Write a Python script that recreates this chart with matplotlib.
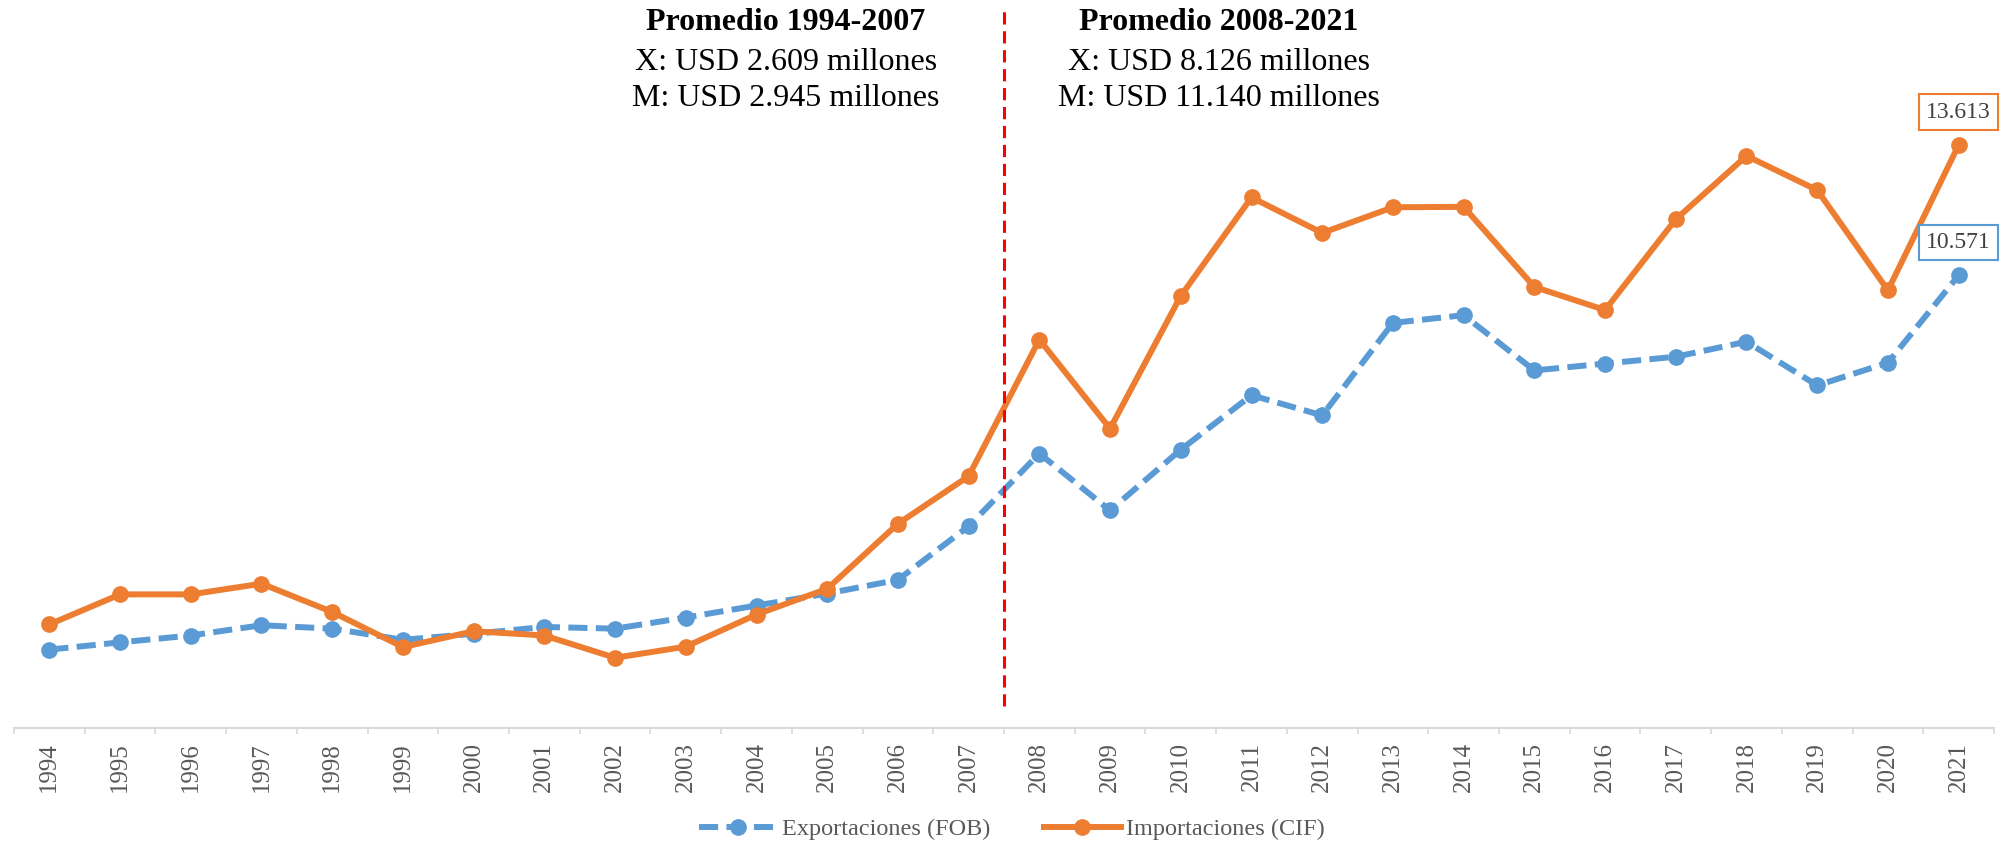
import numpy as np
import matplotlib.pyplot as plt

# Datos (millones de USD)
anios = [str(a) for a in range(1994, 2022)]
exportaciones = [1.83, 2.00, 2.16, 2.40, 2.32, 2.06, 2.20, 2.36, 2.32, 2.58, 2.86, 3.14, 3.46, 4.71,
                 6.41, 5.08, 6.50, 7.77, 7.30, 9.46, 9.64, 8.35, 8.51, 8.67, 9.02, 8.00, 8.53, 10.571]
importaciones = [2.42, 3.12, 3.12, 3.37, 2.71, 1.89, 2.26, 2.16, 1.64, 1.90, 2.65, 3.25, 4.77, 5.88,
                 9.07, 6.99, 10.09, 12.39, 11.56, 12.16, 12.17, 10.30, 9.76, 11.88, 13.36, 12.56, 10.22, 13.613]

azul = '#5B9BD5'
naranja = '#ED7D31'
gris = '#595959'
serif = ['Liberation Serif', 'DejaVu Serif']

W, H = 2005, 843
fig = plt.figure(figsize=(W / 100, H / 100), dpi=100)
ax = fig.add_axes([14 / W, 115 / H, 1980 / W, 728 / H])

x = np.arange(len(anios))
ax.plot(x, exportaciones, color=azul, lw=4.3, ls=(0, (3.2, 1.4)), marker='o', ms=11,
        label='Exportaciones (FOB)')
ax.plot(x, importaciones, color=naranja, lw=4.3, marker='o', ms=11,
        label='Importaciones (CIF)')

ax.set_xlim(-0.5, len(anios) - 0.5)
ax.set_ylim(0, 17)

# linea divisoria 2007/2008
ax.axvline(13.5, ymin=0.03, ymax=0.987, color='#FF0000', lw=2.2, ls=(0, (4, 2.2)))

# ejes
for s in ['top', 'right', 'left']:
    ax.spines[s].set_visible(False)
ax.spines['bottom'].set_color('#D9D9D9')
ax.spines['bottom'].set_linewidth(1.5)
ax.set_yticks([])
ax.set_xticks(x)
ax.set_xticklabels(anios, rotation=90, fontsize=18, color=gris, family=serif)
ax.tick_params(axis='x', which='major', length=0, pad=10)
ax.set_xticks(np.arange(-0.5, len(anios), 1), minor=True)
ax.tick_params(axis='x', which='minor', length=4, width=1.2, color='#D9D9D9')

# etiquetas del ultimo valor
ax.annotate('13.613', (x[-1], importaciones[-1]), xytext=(0, 33), textcoords='offset pixels',
            ha='center', va='center', fontsize=17, color='#404040', family=serif,
            bbox=dict(boxstyle='square,pad=0.3', fc='white', ec=naranja, lw=1.5))
ax.annotate('10.571', (x[-1], exportaciones[-1]), xytext=(0, 33), textcoords='offset pixels',
            ha='center', va='center', fontsize=17, color='#404040', family=serif,
            bbox=dict(boxstyle='square,pad=0.3', fc='white', ec=azul, lw=1.5))

# promedios
fig.text(786 / W, 1 - 22 / H, 'Promedio 1994-2007', ha='center', va='center',
         fontsize=23, fontweight='bold', family=serif)
fig.text(786 / W, 1 - 62 / H, 'X: USD 2.609 millones', ha='center', va='center', fontsize=23, family=serif)
fig.text(786 / W, 1 - 99 / H, 'M: USD 2.945 millones', ha='center', va='center', fontsize=23, family=serif)
fig.text(1219 / W, 1 - 22 / H, 'Promedio 2008-2021', ha='center', va='center',
         fontsize=23, fontweight='bold', family=serif)
fig.text(1219 / W, 1 - 62 / H, 'X: USD 8.126 millones', ha='center', va='center', fontsize=23, family=serif)
fig.text(1219 / W, 1 - 99 / H, 'M: USD 11.140 millones', ha='center', va='center', fontsize=23, family=serif)

# leyenda
fig.legend(loc='center', bbox_to_anchor=(1012 / W, 14 / H), ncol=2, frameon=False,
           prop={'family': serif, 'size': 17.5}, labelcolor=gris,
           handlelength=3.2, columnspacing=2.2, handletextpad=0.2)

fig.savefig('out.png', dpi=100)
